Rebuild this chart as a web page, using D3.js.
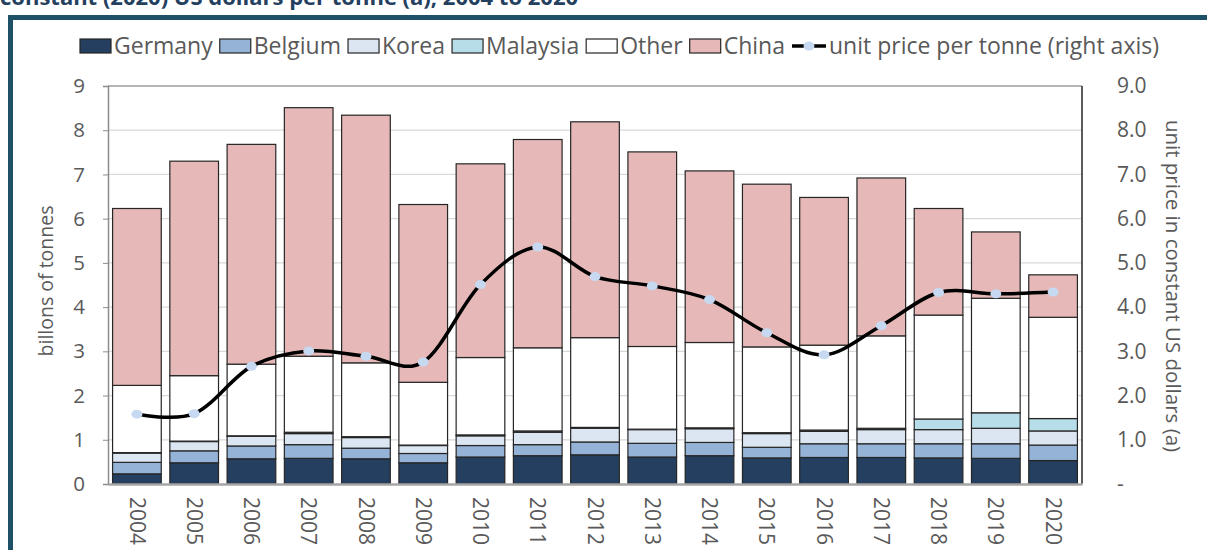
<!DOCTYPE html>
<html>
<head>
<meta charset="utf-8">
<script src="https://cdn.jsdelivr.net/npm/d3@7"></script>
<style>
  body { margin: 0; background: #fff; }
  svg { display: block; font-family: "Open Sans", sans-serif; }
</style>
</head>
<body>
<svg id="chart" width="1207" height="550"></svg>
<script>
var years = ["2004", "2005", "2006", "2007", "2008", "2009", "2010", "2011", "2012",
  "2013", "2014", "2015", "2016", "2017", "2018", "2019", "2020"];

// billions of tonnes, per segment
var germany  = [0.23, 0.48, 0.57, 0.58, 0.57, 0.48, 0.61, 0.64, 0.66, 0.61, 0.64, 0.59, 0.60, 0.60, 0.59, 0.58, 0.53];
var belgium  = [0.26, 0.27, 0.29, 0.31, 0.24, 0.21, 0.26, 0.25, 0.29, 0.31, 0.30, 0.24, 0.31, 0.31, 0.32, 0.33, 0.35];
var korea    = [0.21, 0.21, 0.22, 0.25, 0.24, 0.18, 0.22, 0.28, 0.31, 0.31, 0.31, 0.31, 0.28, 0.32, 0.32, 0.35, 0.32];
var malaysia = [0.01, 0.01, 0.01, 0.03, 0.02, 0.01, 0.02, 0.03, 0.02, 0.01, 0.02, 0.02, 0.03, 0.03, 0.24, 0.35, 0.28];
var other    = [1.52, 1.48, 1.62, 1.72, 1.67, 1.42, 1.75, 1.88, 2.03, 1.87, 1.93, 1.94, 1.92, 2.09, 2.35, 2.59, 2.29];
var china    = [4.00, 4.85, 4.97, 5.62, 5.60, 4.02, 4.38, 4.71, 4.88, 4.40, 3.88, 3.68, 3.34, 3.57, 2.41, 1.50, 0.96];

// unit price per tonne, constant US dollars (right axis)
var unitPrice = [1.58, 1.59, 2.66, 3.01, 2.89, 2.76, 4.51, 5.36, 4.69, 4.48, 4.17, 3.42, 2.92, 3.58, 4.33, 4.30, 4.34];

var seriesNames = ["Germany", "Belgium", "Korea", "Malaysia", "Other", "China"];
var seriesColors = ["#243f60", "#95b3d7", "#dce6f2", "#b7dee8", "#ffffff", "#e6b9b8"];
var leftTicks = [0, 1, 2, 3, 4, 5, 6, 7, 8, 9];

var margin = { top: 86, right: 125, bottom: 66, left: 108 },
  width = 1207 - margin.left - margin.right,
  height = 550 - margin.top - margin.bottom;

var svg = d3.select("#chart");

// title (cut off at top, as in the source) and frame
svg.append("text")
  .attr("x", 0)
  .attr("y", 5)
  .attr("font-size", "22px")
  .attr("font-weight", 700)
  .attr("fill", "#24405f")
  .text("constant (2020) US dollars per tonne (a), 2004 to 2020");

svg.append("path")
  .attr("d", "M10.5,560 L10.5,17.5 L1215,17.5")
  .attr("fill", "none")
  .attr("stroke", "#1e5068")
  .attr("stroke-width", 5);

var rows = years.map(function(y, i) {
  return {
    year: y,
    Germany: germany[i],
    Belgium: belgium[i],
    Korea: korea[i],
    Malaysia: malaysia[i],
    Other: other[i],
    China: china[i]
  };
});

var x = d3.scaleBand()
  .domain(years)
  .range([0, width])
  .paddingInner(0.15)
  .paddingOuter(0.08);

var y = d3.scaleLinear().domain([0, 9]).range([height, 0]);
var y2 = d3.scaleLinear().domain([0, 9]).range([height, 0]);

var g = svg.append("g")
  .attr("transform", "translate(" + margin.left + "," + margin.top + ")");

// gridlines
g.append("g")
  .selectAll("line")
  .data(leftTicks.filter(function(d) { return d > 0; }))
  .enter()
  .append("line")
  .attr("x1", 0)
  .attr("x2", width)
  .attr("y1", function(d) { return y(d); })
  .attr("y2", function(d) { return y(d); })
  .attr("stroke", "#d9d9d9")
  .attr("stroke-width", 1.2);

var stack = d3.stack().keys(seriesNames);
var layers = stack(rows);

g.selectAll(".layer")
  .data(layers)
  .enter()
  .append("g")
  .attr("class", "layer")
  .attr("fill", function(d, i) { return seriesColors[i]; })
  .selectAll("rect")
  .data(function(d) { return d; })
  .enter()
  .append("rect")
  .attr("x", function(d) { return x(d.data.year); })
  .attr("y", function(d) { return y(d[1]); })
  .attr("width", x.bandwidth())
  .attr("height", function(d) { return y(d[0]) - y(d[1]); })
  .attr("stroke", "#262626")
  .attr("stroke-width", 1.2);

// plot area border (top + right)
g.append("line")
  .attr("x1", 0).attr("x2", width)
  .attr("y1", 0).attr("y2", 0)
  .attr("stroke", "#7f7f7f").attr("stroke-width", 1.2);
g.append("line")
  .attr("x1", width).attr("x2", width)
  .attr("y1", 0).attr("y2", height)
  .attr("stroke", "#262626").attr("stroke-width", 1.5);

// left axis
var yAxis = d3.axisLeft(y).tickValues(leftTicks).tickSize(5).tickPadding(18)
  .tickFormat(d3.format("d"));
var gy = g.append("g").call(yAxis);
gy.select(".domain").attr("stroke", "#8c8c8c").attr("stroke-width", 1.5);
gy.selectAll(".tick line").attr("stroke", "#8c8c8c");
gy.selectAll("text")
  .attr("font-size", "20.5px")
  .attr("fill", "#595959")
  .attr("font-family", "Open Sans");

// right axis
var y2Axis = d3.axisRight(y2).tickValues(leftTicks).tickSize(0).tickPadding(35)
  .tickFormat(function(d) { return d === 0 ? "-" : d.toFixed(1); });
var gy2 = g.append("g").attr("transform", "translate(" + width + ",0)").call(y2Axis);
gy2.select(".domain").remove();
gy2.selectAll("text")
  .attr("font-size", "21px")
  .attr("fill", "#595959")
  .attr("font-family", "Open Sans");

// bottom axis
var xAxis = d3.axisBottom(x).tickSize(0).tickPadding(0);
var gx = g.append("g").attr("transform", "translate(0," + height + ")").call(xAxis);
gx.select(".domain").attr("stroke", "#a6a6a6").attr("stroke-width", 2.5);
gx.selectAll("text")
  .attr("font-size", "21px")
  .attr("fill", "#595959")
  .attr("font-family", "Open Sans")
  .attr("text-anchor", "start")
  .attr("dy", "0.35em")
  .attr("transform", "translate(0,13) rotate(90)");

// axis titles
svg.append("text")
  .attr("transform", "translate(53," + (margin.top + height / 2 - 4) + ") rotate(-90)")
  .attr("text-anchor", "middle")
  .attr("font-size", "19.5px")
  .attr("fill", "#595959")
  .text("billons of tonnes");

svg.append("text")
  .attr("transform", "translate(1166," + (margin.top + height / 2 + 1) + ") rotate(90)")
  .attr("text-anchor", "middle")
  .attr("font-size", "20.5px")
  .attr("fill", "#595959")
  .text("unit price in constant US dollars (a)");

// price line
var line = d3.line()
  .x(function(d, i) { return x(years[i]) + x.bandwidth() / 2; })
  .y(function(d) { return y2(d); })
  .curve(d3.curveCatmullRom.alpha(0));

g.append("path")
  .datum(unitPrice)
  .attr("d", line)
  .attr("fill", "none")
  .attr("stroke", "#000")
  .attr("stroke-width", 3.5);

g.selectAll(".dot")
  .data(unitPrice)
  .enter()
  .append("ellipse")
  .attr("class", "dot")
  .attr("cx", function(d, i) { return x(years[i]) + x.bandwidth() / 2; })
  .attr("cy", function(d) { return y2(d); })
  .attr("rx", 5.5)
  .attr("ry", 4.5)
  .attr("fill", "#c6d9f1");

// legend
var legend = svg.append("g").attr("transform", "translate(80,46)");
var lx = 0;
seriesNames.forEach(function(name, i) {
  legend.append("rect")
    .attr("x", lx)
    .attr("y", -7)
    .attr("width", 31)
    .attr("height", 14)
    .attr("fill", seriesColors[i])
    .attr("stroke", "#262626")
    .attr("stroke-width", 1.2);
  var t = legend.append("text")
    .attr("x", lx + 34)
    .attr("y", 0)
    .attr("dy", "0.35em")
    .attr("font-size", "23px")
    .attr("fill", "#595959")
    .text(name);
  lx += 34 + t.node().getComputedTextLength() + 7;
});
legend.append("line")
  .attr("x1", lx).attr("x2", lx + 34)
  .attr("y1", 0).attr("y2", 0)
  .attr("stroke", "#000").attr("stroke-width", 3.5);
legend.append("ellipse")
  .attr("cx", lx + 17).attr("cy", 0)
  .attr("rx", 5.5).attr("ry", 4.5)
  .attr("fill", "#c6d9f1");
legend.append("text")
  .attr("x", lx + 37)
  .attr("y", 0)
  .attr("dy", "0.35em")
  .attr("font-size", "23px")
  .attr("fill", "#595959")
  .text("unit price per tonne (right axis)");
</script>
</body>
</html>
